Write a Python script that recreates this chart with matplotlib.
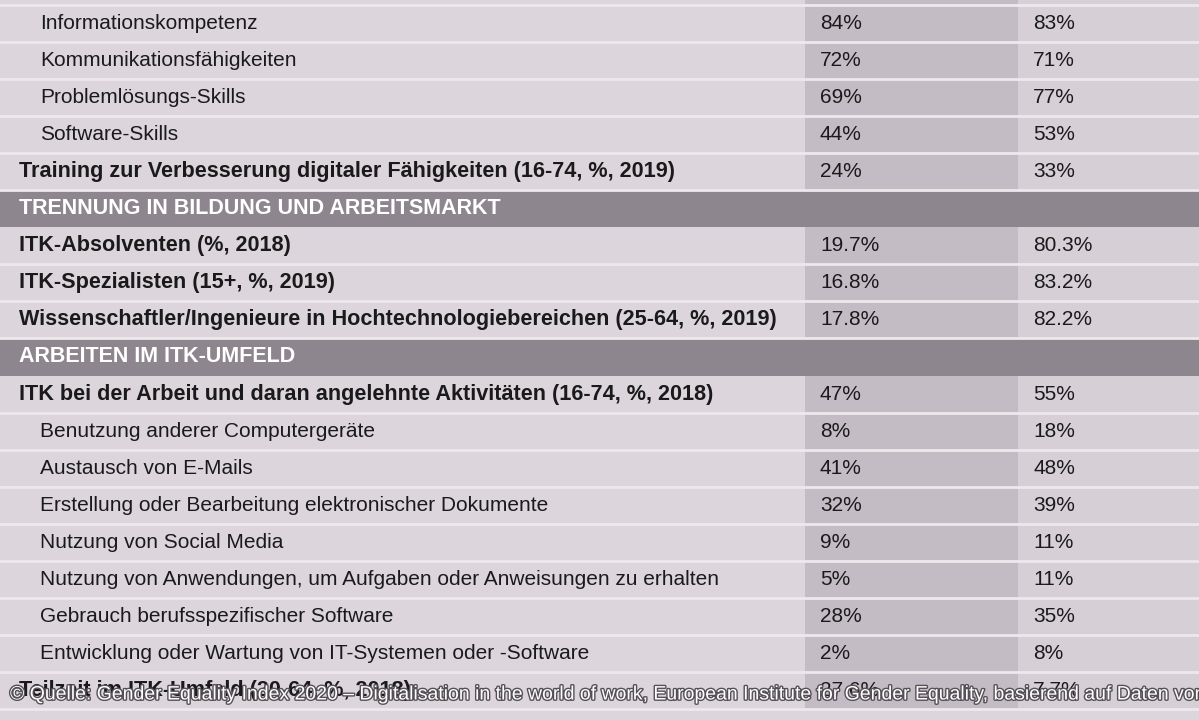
import matplotlib
matplotlib.use("Agg")
import matplotlib.pyplot as plt
import matplotlib.patheffects as pe
from matplotlib.patches import Rectangle

labels = ["", "Informationskompetenz", "Kommunikationsfähigkeiten", "Problemlösungs-Skills", "Software-Skills",
          "Training zur Verbesserung digitaler Fähigkeiten (16-74, %, 2019)",
          "TRENNUNG IN BILDUNG UND ARBEITSMARKT",
          "ITK-Absolventen (%, 2018)", "ITK-Spezialisten (15+, %, 2019)",
          "Wissenschaftler/Ingenieure in Hochtechnologiebereichen (25-64, %, 2019)",
          "ARBEITEN IM ITK-UMFELD",
          "ITK bei der Arbeit und daran angelehnte Aktivitäten (16-74, %, 2018)",
          "Benutzung anderer Computergeräte", "Austausch von E-Mails",
          "Erstellung oder Bearbeitung elektronischer Dokumente", "Nutzung von Social Media",
          "Nutzung von Anwendungen, um Aufgaben oder Anweisungen zu erhalten",
          "Gebrauch berufsspezifischer Software",
          "Entwicklung oder Wartung von IT-Systemen oder -Software",
          "Teilzeit im ITK-Umfeld (20-64, %, 2018)"]
kinds = ["blank", "sub", "sub", "sub", "sub", "main", "section", "main", "main", "main", "section",
         "main", "sub", "sub", "sub", "sub", "sub", "sub", "sub", "main"]
women = ["", "84%", "72%", "69%", "44%", "24%", "", "19.7%", "16.8%", "17.8%", "",
         "47%", "8%", "41%", "32%", "9%", "5%", "28%", "2%", "27.6%"]
men = ["", "83%", "71%", "77%", "53%", "33%", "", "80.3%", "83.2%", "82.2%", "",
       "55%", "18%", "48%", "39%", "11%", "11%", "35%", "8%", "7.7%"]
footer = "© Quelle: Gender Equality Index 2020 – Digitalisation in the world of work, European Institute for Gender Equality, basierend auf Daten von Eurostat"

W, H = 1199, 720
fig = plt.figure(figsize=(W/100, H/100), dpi=100)
ax = fig.add_axes([0, 0, 1, 1])
ax.set_xlim(0, W); ax.set_ylim(H, 0); ax.axis("off")
fig.patch.set_facecolor("#dcd6dc")

pitch, top0 = 37.1, 4.5 - 37.1
light, dark, sec, sep = "#dcd6dc", "#c4bcc4", "#8e868e", "#ece8ec"
font = "Liberation Sans"
for i, (lab, k) in enumerate(zip(labels, kinds)):
    top = top0 + pitch * i
    cy = top + pitch / 2
    if k == "section":
        ax.add_patch(Rectangle((0, top), W, pitch, color=sec, lw=0))
        ax.text(19, cy, lab, color="white", fontweight="bold", fontsize=15.5, va="center", family=font)
        continue
    ax.add_patch(Rectangle((0, top), 805, pitch, color=light, lw=0))
    ax.add_patch(Rectangle((805, top), 213, pitch, color=dark, lw=0))
    ax.add_patch(Rectangle((1018, top), W - 1018, pitch, color="#d6cfd6", lw=0))
    ax.plot([0, W], [top + pitch, top + pitch], color=sep, lw=2)
    x = 40 if k == "sub" else 19
    bold = k == "main"
    ax.text(x, cy, lab, color="#1a1a1a", fontweight="bold" if bold else "normal",
            fontsize=15.6 if bold else 15, va="center", family=font)
    ax.text(820, cy, women[i], color="#1a1a1a", fontsize=15, va="center", family=font)
    ax.text(1033, cy, men[i], color="#1a1a1a", fontsize=15, va="center", family=font)

ax.text(10, 695, footer, color="white", fontsize=14, va="center", family=font, clip_on=True,
        path_effects=[pe.withStroke(linewidth=2, foreground="#555055")])
fig.savefig("out.png", dpi=100)
